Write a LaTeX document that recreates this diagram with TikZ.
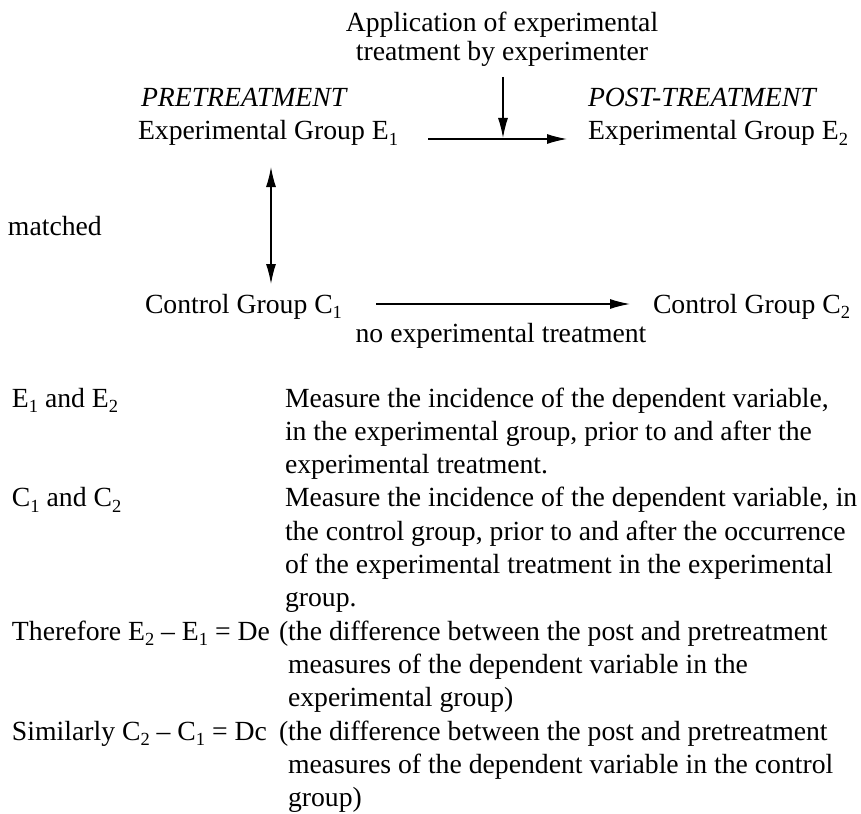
\documentclass[tikz,border=0pt]{standalone}
\usepackage{fontspec}
\setmainfont{Liberation Serif}
\usetikzlibrary{arrows.meta}
\newcommand{\sbx}[1]{\raisebox{-0.2em}{\fontsize{18.5}{18.5}\selectfont #1}}
\begin{document}
\begin{tikzpicture}[x=1pt,y=-1pt,
  txt/.style={anchor=base west,inner sep=0pt,outer sep=0pt,font=\fontsize{27.7}{32}\selectfont},
  ctxt/.style={anchor=base,inner sep=0pt,outer sep=0pt,font=\fontsize{27.7}{32}\selectfont},
  arr/.style={line width=1.3pt,-{Latex[length=20pt,width=10pt]}},
  darr/.style={line width=1.3pt,{Latex[length=20pt,width=10pt]}-{Latex[length=20pt,width=10pt]}}]
\useasboundingbox (0,0) rectangle (861,813);
% top part
\node[ctxt] (app1) at (502,32) {Application of experimental};
\node[ctxt] (app2) at (502,61) {treatment by experimenter};
\node[txt] (pre) at (141,107) {\itshape PRETREATMENT};
\node[txt] (e1) at (138,140) {Experimental Group E\sbx{1}};
\node[txt] (post) at (588,107) {\itshape POST-TREATMENT};
\node[txt] (e2) at (588,140) {Experimental Group E\sbx{2}};
\node[txt] (mat) at (8,235) {matched};
\node[txt] (c1) at (145,313) {Control Group C\sbx{1}};
\node[txt] (c2) at (653,313) {Control Group C\sbx{2}};
\node[ctxt] (noexp) at (501,342) {no experimental treatment};
% arrows
\coordinate (vtop) at (503,77);
\coordinate (vtip) at (503,138);
\coordinate (ea) at (428,139);
\coordinate (eb) at (567,139);
\coordinate (mt) at (271,167);
\coordinate (mb) at (271,284);
\coordinate (ca) at (376,304);
\coordinate (cb) at (630,304);
\draw[arr] (ea) -- (eb);
\draw[arr] (vtop) -- (vtip);
\draw[darr] (mt) -- (mb);
\draw[arr] (ca) -- (cb);
% lower table
\node[txt] (la) at (12,407) {E\sbx{1} and E\sbx{2}};
\node[txt] (ra1) at (285,407) {Measure the incidence of the dependent variable,};
\node[txt] (ra2) at (285,440.3) {in the experimental group, prior to and after the};
\node[txt] (ra3) at (285,473.6) {experimental treatment.};
\node[txt] (lb) at (12,506.9) {C\sbx{1} and C\sbx{2}};
\node[txt] (rb1) at (285,506.9) {Measure the incidence of the dependent variable, in};
\node[txt] (rb2) at (285,540.2) {the control group, prior to and after the occurrence};
\node[txt] (rb3) at (285,573.5) {of the experimental treatment in the experimental};
\node[txt] (rb4) at (285,606.8) {group.};
\node[txt] (lc) at (12,640.1) {Therefore E\sbx{2} – E\sbx{1} = De};
\node[txt] (rc1) at (279,640.1) {(the difference between the post and pretreatment};
\node[txt] (rc2) at (288,673.4) {measures of the dependent variable in the};
\node[txt] (rc3) at (288,706.7) {experimental group)};
\node[txt] (ld) at (12,740) {Similarly C\sbx{2} – C\sbx{1} = Dc};
\node[txt] (rd1) at (279,740) {(the difference between the post and pretreatment};
\node[txt] (rd2) at (288,773.3) {measures of the dependent variable in the control};
\node[txt] (rd3) at (288,806.6) {group)};
\end{tikzpicture}
\end{document}
